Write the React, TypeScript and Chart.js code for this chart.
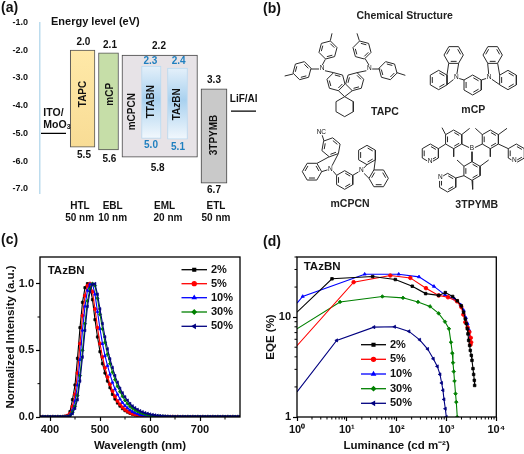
import React, { useEffect, useRef } from "react";
import { Chart, registerables } from "chart.js";
import { drawPoint } from "chart.js/helpers";

Chart.register(...registerables);

const FONT = '"Liberation Sans", Arial, sans-serif';

/* ---------- (a) energy levels ---------- */
const layerNames = ["TTABN", "TAzBN", "TAPC", "mCP", "mCPCN", "3TPYMB"];
const layerHigh = [-2.58, -2.65, -2.0, -2.1, -2.18, -3.4];
const layerLow = [-5.18, -5.21, -5.5, -5.6, -5.86, -6.8];
const layerCentre = [151.3, 177.5, 82.6, 108.5, 159.7, 214];
const layerWidth = [19.5, 20, 24.7, 20, 75.5, 26];
const energyTicks = [-1, -2, -3, -4, -5, -6, -7];
const electrodeIto = [
  { x: 41, y: -5 },
  { x: 66, y: -5 },
];
const electrodeLif = [
  { x: 231, y: -4.2 },
  { x: 256, y: -4.2 },
];

/* ---------- (c) spectra ---------- */
const wavelengths = [
  380, 385, 390, 395, 400, 405, 410, 415, 420, 425,
  430, 435, 440, 445, 450, 455, 460, 465, 470, 475,
  480, 485, 490, 495, 500, 505, 510, 515, 520, 525,
  530, 535, 540, 545, 550, 555, 560, 565, 570, 575,
  580, 585, 590, 595, 600, 605, 610, 615, 620, 625,
  630, 635, 640, 645, 650, 655, 660, 665, 670, 675,
  680, 685, 690, 695, 700, 705, 710, 715, 720, 725,
  730, 735, 740, 745, 750, 755, 760, 765, 770, 775,
  780,
];
const spectrum2 = [
  0, 0, 0, 0, 0, 0, 0, 0, 0, 0,
  0.005, 0.01, 0.04, 0.13, 0.24, 0.44, 0.67, 0.86, 0.97, 1,
  0.98, 0.88, 0.73, 0.6, 0.49, 0.4, 0.33, 0.27, 0.22, 0.17,
  0.135, 0.105, 0.082, 0.063, 0.048, 0.037, 0.028, 0.021, 0.016, 0.012,
  0.009, 0.007, 0.005, 0.004, 0.003, 0.002, 0.002, 0.001, 0.001, 0.001,
  0.001, 0.001, 0.001, 0.001, 0.001, 0, 0, 0, 0, 0,
  0, 0, 0, 0, 0, 0, 0, 0, 0, 0,
  0, 0, 0, 0, 0, 0, 0, 0, 0, 0,
  0,
];
const spectrum5 = [
  0, 0, 0, 0, 0, 0, 0, 0, 0, 0,
  0.003, 0.01, 0.025, 0.08, 0.17, 0.33, 0.55, 0.76, 0.91, 0.985,
  1, 0.94, 0.81, 0.67, 0.55, 0.45, 0.37, 0.3, 0.245, 0.195,
  0.155, 0.12, 0.095, 0.073, 0.056, 0.043, 0.033, 0.025, 0.019, 0.014,
  0.01, 0.008, 0.006, 0.004, 0.003, 0.002, 0.002, 0.001, 0.001, 0.001,
  0.001, 0.001, 0.001, 0.001, 0.001, 0.001, 0, 0, 0, 0,
  0, 0, 0, 0, 0, 0, 0, 0, 0, 0,
  0, 0, 0, 0, 0, 0, 0, 0, 0, 0,
  0,
];
const spectrum10 = [
  0.001, 0.001, 0.001, 0.001, 0.001, 0.001, 0.001, 0.001, 0.001, 0.001,
  0.002, 0.005, 0.015, 0.05, 0.12, 0.24, 0.43, 0.65, 0.83, 0.95,
  0.995, 1, 0.92, 0.79, 0.66, 0.55, 0.46, 0.385, 0.32, 0.26,
  0.21, 0.17, 0.135, 0.108, 0.085, 0.067, 0.052, 0.04, 0.031, 0.024,
  0.018, 0.014, 0.011, 0.008, 0.006, 0.005, 0.004, 0.003, 0.002, 0.002,
  0.002, 0.001, 0.001, 0.001, 0.001, 0.001, 0.001, 0.001, 0.001, 0.001,
  0.001, 0.001, 0.001, 0.001, 0.001, 0.001, 0.001, 0.001, 0.001, 0.001,
  0.001, 0.001, 0.001, 0.001, 0.001, 0.001, 0.001, 0.001, 0.001, 0.001,
  0.001,
];
const spectrum30 = [
  0.002, 0.002, 0.002, 0.002, 0.002, 0.002, 0.002, 0.002, 0.002, 0.002,
  0.002, 0.004, 0.01, 0.035, 0.08, 0.16, 0.31, 0.5, 0.7, 0.87,
  0.96, 1, 0.985, 0.89, 0.77, 0.66, 0.56, 0.47, 0.4, 0.335,
  0.28, 0.23, 0.19, 0.155, 0.125, 0.1, 0.08, 0.065, 0.052, 0.042,
  0.034, 0.027, 0.022, 0.018, 0.014, 0.011, 0.009, 0.007, 0.006, 0.005,
  0.004, 0.003, 0.002, 0.002, 0.002, 0.002, 0.002, 0.002, 0.002, 0.002,
  0.002, 0.002, 0.002, 0.002, 0.002, 0.002, 0.002, 0.002, 0.002, 0.002,
  0.002, 0.002, 0.002, 0.002, 0.002, 0.002, 0.002, 0.002, 0.002, 0.002,
  0.002,
];
const spectrum50 = [
  0.003, 0.003, 0.003, 0.003, 0.003, 0.003, 0.003, 0.003, 0.003, 0.003,
  0.003, 0.004, 0.008, 0.025, 0.065, 0.13, 0.27, 0.45, 0.65, 0.83,
  0.94, 0.995, 1, 0.92, 0.81, 0.7, 0.6, 0.51, 0.435, 0.37,
  0.31, 0.26, 0.215, 0.18, 0.15, 0.125, 0.1, 0.082, 0.068, 0.056,
  0.046, 0.038, 0.031, 0.026, 0.021, 0.017, 0.014, 0.011, 0.009, 0.007,
  0.006, 0.005, 0.004, 0.003, 0.003, 0.003, 0.003, 0.003, 0.003, 0.003,
  0.003, 0.003, 0.003, 0.003, 0.003, 0.003, 0.003, 0.003, 0.003, 0.003,
  0.003, 0.003, 0.003, 0.003, 0.003, 0.003, 0.003, 0.003, 0.003, 0.003,
  0.003,
];

/* ---------- (d) EQE ---------- */
const lum2 = [1, 5.04, 33, 94, 206, 382, 697, 948, 1330, 1648, 1985, 2209, 2386, 2500, 2620, 2700, 2785, 2915, 3008, 3150, 3250, 3405, 3510, 3620, 3675];
const eqe2 = [11.2, 24.2, 25.5, 23.8, 20.4, 17.2, 16.5, 17.6, 16.1, 14.6, 13, 11.2, 9.6, 8.6, 7.64, 6.8, 5.85, 5.2, 4.64, 4.14, 3.69, 3.05, 2.67, 2.33, 2.07];
const lum5 = [1, 13.7, 74.6, 188, 388, 697, 1072, 1622, 1985, 2177, 2386, 2650, 2880, 3080, 3130, 3040];
const eqe5 = [5.17, 22.4, 26.1, 24.7, 19.5, 16.5, 15.8, 14.4, 12.6, 10.6, 8.9, 7.9, 7.1, 6.2, 5.6, 5.3];
const lum10 = [1, 1.3, 22.8, 110, 281, 561, 933, 1459, 1923, 2209, 2450, 2650, 2880, 2915];
const eqe10 = [13.8, 16.1, 26.9, 26.9, 25.3, 20.3, 16.7, 15.2, 13.3, 11.7, 9.85, 8.6, 7.36, 6.2];
const lum30 = [1, 7.3, 51.6, 134, 268, 467, 697, 933, 1122, 1230, 1309, 1350, 1400, 1450, 1520, 1574, 1648];
const eqe30 = [7.64, 14.2, 16.1, 15.6, 14.2, 12.8, 10.9, 9, 7.64, 5.6, 4.36, 3.5, 2.85, 2.29, 1.71, 1.41, 1.0];
const lum50 = [1, 6.25, 35, 91, 177, 290, 419, 544, 655, 741, 800, 851, 891, 948, 993];
const eqe50 = [1.78, 5.85, 7.94, 8, 7.2, 5.93, 4.79, 3.83, 3.21, 2.67, 2.19, 1.85, 1.5, 1.21, 1.0];

const seriesNames = ["2%", "5%", "10%", "30%", "50%"];
const seriesColors = ["#000000", "#ff0000", "#0000ff", "#008000", "#000080"];
const seriesMarks = ["rect", "circle", "triangle", "rectRot", "triangle"];
const seriesRotation = [0, 0, 0, 0, -90];

/* ---------- (b) molecules, in the panel's drawing units ---------- */
const ringList = [
  // TAPC
  [198, 150, 28, 15], [120, 212, 28, 15], [222, 245, 28, -15], [278, 245, 28, 15], [300, 150, 28, -15], [378, 212, 28, -15],
  // mCP
  [632, 255, 30, 0], [575, 165, 29, 30], [530, 240, 29, 0], [692, 165, 29, 30], [738, 240, 29, 0],
  // mCPCN
  [248, 540, 28, 0], [207, 442, 29, 10], [150, 515, 29, 30], [315, 465, 29, 0], [350, 535, 29, 30],
  // 3TPYMB
  [575, 418, 28, 0], [685, 418, 28, 0], [630, 513, 28, 0], [505, 460, 28, 0], [763, 460, 28, 0], [557, 548, 28, 0],
];
const plainRings = [[248, 320, 30, 0]];
const bondList = [
  // TAPC
  [205, 122, 210, 100], [180, 197, 190, 178], [172, 207, 147, 207], [188, 212, 215, 218], [93, 222, 68, 228],
  [229, 272, 248, 290], [271, 272, 248, 290], [322, 197, 310, 177], [330, 207, 355, 207], [314, 212, 285, 218],
  [292, 122, 285, 100], [405, 218, 430, 226],
  // mCP
  [583, 232, 590, 190], [583, 232, 555, 254], [560, 190, 555, 225], [606, 240, 590, 235],
  [681, 232, 677, 190], [681, 232, 713, 254], [707, 190, 713, 225], [658, 240, 674, 235],
  // mCPCN
  [205, 507, 229, 461], [205, 507, 179, 515], [202, 470, 165, 490], [186, 423, 180, 404], [224, 526, 212, 512],
  [272, 526, 291, 515], [298, 512, 315, 494], [298, 512, 321, 535], [340, 479, 336, 510],
  // 3TPYMB
  [622, 443, 599, 432], [638, 443, 661, 432], [630, 453, 630, 485], [551, 432, 529, 446], [709, 432, 739, 446], [606, 527, 581, 534],
  [551, 404, 540, 383], [599, 404, 623, 385], [575, 446, 575, 470], [661, 404, 640, 385], [709, 404, 735, 385], [685, 446, 685, 470],
  [606, 499, 585, 480], [654, 499, 680, 480], [630, 541, 632, 568],
];

type Item = {
  t?: string;
  runs?: { t: string; style?: string; size?: number; dy?: number }[];
  x: number;
  y: number;
  size?: number;
  color?: string;
  rot?: boolean;
  align?: CanvasTextAlign;
  bg?: boolean;
  weight?: string;
};

const textA: Item[] = [
  { t: "(a)", x: 3, y: 25, size: 14, align: "left" },
  { t: "Energy level (eV)", x: 286, y: 67, size: 11 },
  { t: "2.0", x: 250, y: 128 }, { t: "2.1", x: 330, y: 137 }, { t: "2.2", x: 477, y: 138 }, { t: "3.3", x: 642, y: 240 },
  { t: "5.5", x: 252, y: 466 }, { t: "5.6", x: 328, y: 479 }, { t: "5.8", x: 473, y: 506 }, { t: "6.7", x: 642, y: 571 },
  { t: "2.3", x: 451, y: 183, color: "#1f7fbf" }, { t: "2.4", x: 536, y: 183, color: "#1f7fbf" },
  { t: "5.0", x: 453, y: 435, color: "#1f7fbf" }, { t: "5.1", x: 534, y: 443, color: "#1f7fbf" },
  { t: "TAPC", x: 250, y: 282, rot: true }, { t: "mCP", x: 330, y: 283, rot: true }, { t: "mCPCN", x: 398, y: 335, rot: true },
  { t: "TTABN", x: 453, y: 305, rot: true },
  { runs: [{ t: "TA" }, { t: "z", style: "italic" }, { t: "BN" }], x: 532, y: 313, rot: true },
  { t: "3TPYMB", x: 642, y: 405, rot: true },
  { t: "ITO/", x: 130, y: 338, align: "left", size: 10.5 },
  { runs: [{ t: "MoO" }, { t: "3", size: 7, dy: 2 }], x: 130, y: 376, align: "left", size: 10.5 },
  { t: "LiF/Al", x: 731, y: 299, size: 10 },
  { t: "HTL", x: 240, y: 618 }, { t: "50 nm", x: 239, y: 656 }, { t: "EBL", x: 338, y: 618 }, { t: "10 nm", x: 338, y: 656 },
  { t: "EML", x: 494, y: 618 }, { t: "20 nm", x: 504, y: 656 }, { t: "ETL", x: 648, y: 618 }, { t: "50 nm", x: 648, y: 656 },
];
const textB: Item[] = [
  { t: "(b)", x: 3, y: 27, size: 14, align: "left" },
  { t: "Chemical Structure", x: 428, y: 47, size: 10.5, color: "#222" },
  { t: "TAPC", x: 369, y: 337, size: 10.5, color: "#222" }, { t: "mCP", x: 634, y: 330, size: 10.5, color: "#222" },
  { t: "mCPCN", x: 264, y: 612, size: 10.5, color: "#222" }, { t: "3TPYMB", x: 644, y: 614, size: 10.5, color: "#222" },
  { t: "N", x: 180, y: 205, size: 6.5, bg: true, weight: "normal" }, { t: "N", x: 322, y: 205, size: 6.5, bg: true, weight: "normal" },
  { t: "N", x: 583, y: 232, size: 6.5, bg: true, weight: "normal" }, { t: "N", x: 681, y: 232, size: 6.5, bg: true, weight: "normal" },
  { t: "N", x: 205, y: 507, size: 6.5, bg: true, weight: "normal" }, { t: "N", x: 298, y: 512, size: 6.5, bg: true, weight: "normal" },
  { t: "NC", x: 178, y: 396, size: 6.5, bg: true, weight: "normal" }, { t: "B", x: 630, y: 445, size: 6.5, bg: true, weight: "normal" },
  { t: "N", x: 504, y: 484, size: 6.5, bg: true, weight: "normal" }, { t: "N", x: 757, y: 480, size: 6.5, bg: true, weight: "normal" },
  { t: "N", x: 535, y: 533, size: 6.5, bg: true, weight: "normal" },
];
const textC: Item[] = [
  { t: "(c)", x: 3, y: 40, size: 14, align: "left" },
  { t: "TAzBN", x: 143, y: 130, size: 11.5, align: "left" },
];
const textD: Item[] = [
  { t: "(d)", x: 3, y: 45, size: 14, align: "left" },
  { t: "TAzBN", x: 125, y: 120, size: 11.5, align: "left" },
];

const textPlugin = (items: Item[]) => ({
  id: "texts",
  afterDraw(chart: any) {
    const c = chart.ctx;
    items.forEach((it) => {
      c.save();
      const size = it.size ?? 10;
      const weight = it.weight ?? "bold";
      c.translate(it.x / 3, it.y / 3);
      if (it.rot) c.rotate(-Math.PI / 2);
      c.fillStyle = it.color ?? "#111";
      c.textBaseline = "middle";
      c.font = `${weight} ${size}px ${FONT}`;
      if (it.runs) {
        const fonts = it.runs.map((r) => `${r.style ?? ""} bold ${r.size ?? size}px ${FONT}`);
        const widths = it.runs.map((r, i) => {
          c.font = fonts[i];
          return c.measureText(r.t).width;
        });
        const total = widths.reduce((a, b) => a + b, 0);
        let x = it.align === "left" ? 0 : -total / 2;
        c.textAlign = "left";
        it.runs.forEach((r, i) => {
          c.font = fonts[i];
          c.fillText(r.t, x, r.dy ?? 0);
          x += widths[i];
        });
      } else {
        c.textAlign = it.align ?? "center";
        if (it.bg) {
          const w = c.measureText(it.t).width;
          c.fillStyle = "#fff";
          c.fillRect(-w / 2 - 0.5, -size / 2, w + 1, size);
          c.fillStyle = it.color ?? "#111";
        }
        c.fillText(it.t!, 0, 0);
      }
      c.restore();
    });
  },
});

const framePlugin = (minorX: number[], minorY: number[]) => ({
  id: "frame",
  afterDatasetsDraw(chart: any) {
    const { ctx: c, chartArea: a, scales } = chart;
    c.save();
    c.strokeStyle = "#000";
    c.lineWidth = 1.3;
    c.strokeRect(a.left, a.top, a.right - a.left, a.bottom - a.top);
    c.lineWidth = 1;
    c.beginPath();
    minorX.forEach((v) => {
      const p = scales.x.getPixelForValue(v);
      c.moveTo(p, a.bottom);
      c.lineTo(p, a.bottom + 2.5);
    });
    minorY.forEach((v) => {
      const p = scales.y.getPixelForValue(v);
      c.moveTo(a.left, p);
      c.lineTo(a.left - 2.5, p);
    });
    c.stroke();
    c.restore();
  },
});

const legendPlugin = (lineX0: number, lineX1: number, textX: number, rows: number[]) => ({
  id: "seriesLegend",
  afterDatasetsDraw(chart: any) {
    const c = chart.ctx;
    c.save();
    seriesNames.forEach((name, i) => {
      const y = rows[i];
      c.strokeStyle = seriesColors[i];
      c.fillStyle = seriesColors[i];
      c.lineWidth = 1.3;
      c.beginPath();
      c.moveTo(lineX0, y);
      c.lineTo(lineX1, y);
      c.stroke();
      drawPoint(c, { pointStyle: seriesMarks[i], rotation: seriesRotation[i], radius: 2, borderWidth: 1 }, (lineX0 + lineX1) / 2, y);
      c.fillStyle = "#111";
      c.font = `bold 11px ${FONT}`;
      c.textBaseline = "middle";
      c.textAlign = "left";
      c.fillText(name, textX, y);
    });
    c.restore();
  },
});

const axisTicks = (values: number[]) => (s: any) => {
  s.ticks = values.map((value) => ({ value }));
};

const tickFont = { family: FONT, size: 11, weight: "bold" as const };
const titleFont = { family: FONT, size: 11.5, weight: "bold" as const };
const tickGrid = { display: true, drawOnChartArea: false, drawTicks: true, tickLength: 4, tickWidth: 1.2, tickColor: "#000" };

const gradient = (stops: [number, string][], hi: number, lo: number) => (ctx: any) => {
  const y = ctx.chart.scales?.y;
  const y0 = y ? y.getPixelForValue(hi) : NaN;
  const y1 = y ? y.getPixelForValue(lo) : NaN;
  if (!Number.isFinite(y0) || !Number.isFinite(y1)) return stops[0][1];
  const g = ctx.chart.ctx.createLinearGradient(0, y0, 0, y1);
  stops.forEach(([o, col]) => g.addColorStop(o, col));
  return g;
};

const blueStops: [number, string][] = [[0, "#e4f0fa"], [0.45, "#a9d1ef"], [1, "#f2f8fd"]];
const layerFill: any[] = [
  gradient(blueStops, layerHigh[0], layerLow[0]),
  gradient(blueStops, layerHigh[1], layerLow[1]),
  gradient([[0, "#ffe9a8"], [1, "#f8dc95"]], layerHigh[2], layerLow[2]),
  "#c6dea8",
  "#e7e3e7",
  "#c9c9c9",
];
const layerEdge = ["#b9d9f0", "#b9d9f0", "#555", "#555", "#444", "#444"];

function configA(): any {
  return {
    data: {
      datasets: [
        { type: "line", data: electrodeIto, borderColor: "#000", borderWidth: 1.3, pointRadius: 0 },
        { type: "line", data: electrodeLif, borderColor: "#000", borderWidth: 1.3, pointRadius: 0 },
        ...layerNames.map((label, i) => ({
          type: "bar",
          label,
          data: [{ x: layerCentre[i], y: [layerLow[i], layerHigh[i]] }],
          barThickness: layerWidth[i],
          grouped: false,
          backgroundColor: layerFill[i],
          borderColor: layerEdge[i],
          borderWidth: 1,
          borderSkipped: false,
        })),
      ],
    },
    options: {
      animation: false,
      responsive: false,
      layout: { padding: { top: 22.3, bottom: 34, left: 0, right: 0 } },
      plugins: { legend: { display: false }, tooltip: { enabled: false } },
      scales: {
        x: { type: "linear", min: 40, max: 262, offset: false, display: false },
        y: {
          min: -7.15,
          max: -1,
          afterBuildTicks: axisTicks(energyTicks),
          afterFit: (s: any) => { s.width = 40; },
          grid: { display: false },
          border: { display: true, color: "#bcdcee", width: 1.5 },
          ticks: { color: "#111", padding: 4, font: { family: FONT, size: 9, weight: "bold" }, callback: (v: number) => v.toFixed(1) },
        },
      },
    },
    plugins: [textPlugin(textA)],
  };
}

function moleculeSegments(): any[] {
  const pts: any[] = [];
  const gap = { x: NaN, y: NaN };
  const seg = (a: number, b: number, c: number, d: number) => pts.push({ x: a, y: b }, { x: c, y: d }, gap);
  const ring = ([cx, cy, r, rot]: number[], aromatic: boolean) => {
    const v = Array.from({ length: 6 }, (_, k) => {
      const a = ((rot + 60 * k - 90) * Math.PI) / 180;
      return [Math.cos(a), Math.sin(a)];
    });
    v.forEach((p, k) => {
      const q = v[(k + 1) % 6];
      seg(cx + r * p[0], cy + r * p[1], cx + r * q[0], cy + r * q[1]);
      if (aromatic && k % 2 === 0) {
        const ir = r * 0.76;
        seg(cx + ir * (p[0] * 0.9 + q[0] * 0.1), cy + ir * (p[1] * 0.9 + q[1] * 0.1), cx + ir * (q[0] * 0.9 + p[0] * 0.1), cy + ir * (q[1] * 0.9 + p[1] * 0.1));
      }
    });
  };
  ringList.forEach((r) => ring(r, true));
  plainRings.forEach((r) => ring(r, false));
  bondList.forEach(([a, b, c, d]) => seg(a, b, c, d));
  return pts;
}

function configB(): any {
  return {
    type: "scatter",
    data: {
      datasets: [
        { data: moleculeSegments(), showLine: true, spanGaps: false, borderColor: "#2a2a2a", borderWidth: 1, pointRadius: 0 },
      ],
    },
    options: {
      animation: false,
      responsive: false,
      layout: { padding: 0 },
      plugins: { legend: { display: false }, tooltip: { enabled: false } },
      scales: {
        x: { type: "linear", min: 0, max: 786, display: false },
        y: { type: "linear", min: 0, max: 681, reverse: true, display: false },
      },
    },
    plugins: [textPlugin(textB)],
  };
}

function configC(): any {
  const series = [spectrum2, spectrum5, spectrum10, spectrum30, spectrum50];
  return {
    type: "line",
    data: {
      datasets: series.map((arr, i) => ({
        label: seriesNames[i],
        data: wavelengths.map((x, k) => ({ x, y: arr[k] })),
        borderColor: seriesColors[i],
        backgroundColor: seriesColors[i],
        borderWidth: 1.1,
        pointRadius: 1.6,
        pointStyle: seriesMarks[i],
        pointRotation: seriesRotation[i],
        pointBorderWidth: 0.8,
        order: 5 - i,
      })),
    },
    options: {
      animation: false,
      responsive: false,
      layout: { padding: { top: 30, right: 22, left: 0, bottom: 0 } },
      plugins: { legend: { display: false }, tooltip: { enabled: false } },
      scales: {
        x: {
          type: "linear",
          min: 380,
          max: 780,
          afterBuildTicks: axisTicks([400, 500, 600, 700]),
          afterFit: (s: any) => { s.height = 37; },
          grid: tickGrid,
          border: { display: false },
          ticks: { color: "#111", font: tickFont, padding: 2, maxRotation: 0, callback: (v: number) => String(v) },
          title: { display: true, text: "Wavelength (nm)", color: "#111", font: titleFont, padding: { top: 0, bottom: 1 } },
        },
        y: {
          min: 0,
          max: 1.2,
          afterBuildTicks: axisTicks([0, 0.5, 1]),
          afterFit: (s: any) => { s.width = 40; },
          grid: tickGrid,
          border: { display: false },
          ticks: { color: "#111", font: tickFont, padding: 2, callback: (v: number) => v.toFixed(1) },
          title: { display: true, text: "Normalized Intensity (a.u.)", color: "#111", font: titleFont, padding: { top: 4, bottom: 0 } },
        },
      },
    },
    plugins: [
      framePlugin([450, 550, 650, 750], [0.25, 0.75]),
      legendPlugin(181.5, 207, 211, [42.7, 56.7, 70.7, 85, 99.3]),
      textPlugin(textC),
    ],
  };
}

const superscripts: Record<number, string> = { 1: "10\u2070", 10: "10\u00B9", 100: "10\u00B2", 1000: "10\u00B3", 10000: "10\u2074" };

function configD(): any {
  const xs = [lum2, lum5, lum10, lum30, lum50];
  const ys = [eqe2, eqe5, eqe10, eqe30, eqe50];
  const minorX: number[] = [];
  [1, 10, 100, 1000].forEach((d) => [2, 3, 4, 5, 6, 7, 8, 9].forEach((m) => minorX.push(d * m)));
  return {
    type: "line",
    data: {
      datasets: xs.map((arr, i) => ({
        label: seriesNames[i],
        data: arr.map((x, k) => ({ x, y: ys[i][k] })),
        borderColor: seriesColors[i],
        backgroundColor: seriesColors[i],
        borderWidth: 1.1,
        pointRadius: (ctx: any) => (ctx.parsed && ctx.parsed.x <= 1 ? 0 : 1.8),
        pointStyle: seriesMarks[i],
        pointRotation: seriesRotation[i],
        pointBorderWidth: 0.8,
      })),
    },
    options: {
      animation: false,
      responsive: false,
      layout: { padding: { top: 30, right: 27.7, left: 0, bottom: 0 } },
      plugins: { legend: { display: false }, tooltip: { enabled: false } },
      scales: {
        x: {
          type: "logarithmic",
          min: 1,
          max: 10000,
          afterBuildTicks: axisTicks([1, 10, 100, 1000, 10000]),
          afterFit: (s: any) => { s.height = 37; },
          grid: tickGrid,
          border: { display: false },
          ticks: { color: "#111", font: tickFont, padding: 2, maxRotation: 0, autoSkip: false, callback: (v: number) => superscripts[v] ?? "" },
          title: { display: true, text: "Luminance (cd m\u207B\u00B2)", color: "#111", font: titleFont, padding: { top: 0, bottom: 1 } },
        },
        y: {
          type: "logarithmic",
          min: 1,
          max: 40,
          afterBuildTicks: axisTicks([1, 10]),
          afterFit: (s: any) => { s.width = 35; },
          grid: tickGrid,
          border: { display: false },
          ticks: { color: "#111", font: tickFont, padding: 2, autoSkip: false, callback: (v: number) => String(v) },
          title: { display: true, text: "EQE (%)", color: "#111", font: titleFont, padding: { top: 2, bottom: 0 } },
        },
      },
    },
    plugins: [
      framePlugin(minorX, [2, 3, 4, 5, 6, 7, 8, 9, 20, 30, 40]),
      legendPlugin(99, 124, 128, [117.7, 132.3, 147, 161.7, 176.3]),
      textPlugin(textD),
    ],
  };
}

function Panel({ config, left, top }: { config: () => any; left: number; top: number }) {
  const ref = useRef<HTMLCanvasElement>(null);
  useEffect(() => {
    const chart = new Chart(ref.current!, config());
    return () => chart.destroy();
  }, [config]);
  return <canvas ref={ref} width={262} height={227} style={{ position: "absolute", left, top, width: 262, height: 227 }} />;
}

export default function App() {
  return (
    <div style={{ position: "absolute", left: 0, top: 0, width: 524, height: 454, background: "#fff", overflow: "hidden" }}>
      <Panel config={configA} left={0} top={0} />
      <Panel config={configB} left={262} top={0} />
      <Panel config={configC} left={0} top={227} />
      <Panel config={configD} left={262} top={227} />
    </div>
  );
}
